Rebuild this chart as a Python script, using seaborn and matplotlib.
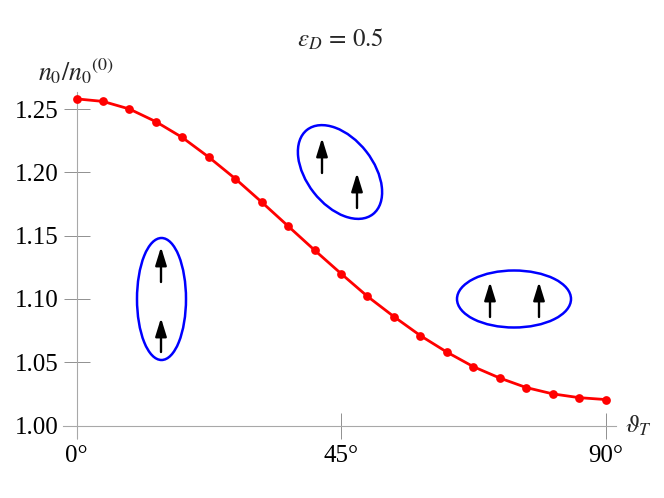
import matplotlib
matplotlib.use("Agg")
import matplotlib.pyplot as plt
import seaborn as sns
from matplotlib.patches import Ellipse
from matplotlib.transforms import Affine2D

angles = [0, 4.5, 9, 13.5, 18, 22.5, 27, 31.5, 36, 40.5, 45, 49.5, 54, 58.5, 63, 67.5, 72, 76.5, 81, 85.5, 90]
ratio = [1.258, 1.256, 1.250, 1.240, 1.2275, 1.212, 1.195, 1.1765, 1.1575, 1.1385, 1.120,
         1.102, 1.086, 1.071, 1.058, 1.0465, 1.0375, 1.030, 1.025, 1.022, 1.0205]
x_ticks = [0, 45, 90]
x_labels = ["0°", "45°", "90°"]
y_ticks = [1.00, 1.05, 1.10, 1.15, 1.20, 1.25]
y_labels = ["1.00", "1.05", "1.10", "1.15", "1.20", "1.25"]

sns.set_style("white")
plt.rcParams["font.family"] = ["Liberation Serif", "DejaVu Sans"]
plt.rcParams["mathtext.fontset"] = "stix"

W, H = 664, 498
fig = plt.figure(figsize=(W / 100, H / 100), dpi=100)

# axes box in pixels, limits follow from the tick positions
left, right, top, bottom = 63, 616, 92, 438
ax = fig.add_axes([left / W, 1 - bottom / H, (right - left) / W, (bottom - top) / H])
px_x = (605.5 - 76.5) / 90
px_y = (425.5 - 109) / 0.25
ax.set_xlim((left - 76.5) / px_x, (right - 76.5) / px_x)
ax.set_ylim(1 - (bottom - 425.5) / px_y, 1 + (425.5 - top) / px_y)

sns.lineplot(x=angles, y=ratio, color="#ff0000", linewidth=2.0, marker="o", markersize=6.3,
             markeredgecolor="#ff0000", markeredgewidth=0, clip_on=False, ax=ax, zorder=5)

ax.spines["top"].set_visible(False)
ax.spines["right"].set_visible(False)
for name, pos in [("left", 0), ("bottom", 1.0)]:
    ax.spines[name].set_position(("data", pos))
    ax.spines[name].set_color("#a8a8a8")
    ax.spines[name].set_linewidth(0.8)

ax.set_xticks(x_ticks, x_labels)
ax.set_yticks(y_ticks, y_labels)
ax.tick_params(axis="both", direction="inout", length=19.4, width=0.7, color="#909090",
               labelsize=18, labelcolor="black", left=True, bottom=True)
ax.tick_params(axis="x", pad=4)
ax.tick_params(axis="y", pad=3.5)

# pixel coordinates measured from the top left corner
pix = Affine2D().scale(1, -1).translate(0, H)


def put_text(x, y, s, size=18, **kw):
    fig.text(x / W, 1 - y / H, s, fontsize=size, ha="center", va="center", **kw)


put_text(340, 39, r"$\varepsilon_D\,=\,0.5$", 18)
put_text(76.5, 71, r"$n_0/n_0{}^{(0)}$", 18.5)
put_text(638, 426, r"$\vartheta_T$", 18)

for cx, cy, w, h, a in [(161.5, 299, 49, 122, 0), (340, 172, 107, 66.6, 52), (514, 299, 114, 57, 0)]:
    fig.add_artist(Ellipse((cx, cy), w, h, angle=a, fill=False, edgecolor="#0000ff",
                           linewidth=1.8, transform=pix))

for ax_x, y0, y1 in [(161, 282, 247), (161, 352, 318), (322, 173, 138), (357, 208, 173),
                     (490, 317, 282), (539, 317, 282)]:
    ax.annotate("", xy=(ax_x, y1), xytext=(ax_x, y0), xycoords=pix, textcoords=pix,
                arrowprops=dict(arrowstyle="-|>,head_length=1.1,head_width=0.34", color="black",
                                linewidth=1.7, mutation_scale=10, shrinkA=0, shrinkB=0),
                annotation_clip=False)

fig.savefig("out.png", dpi=100)
